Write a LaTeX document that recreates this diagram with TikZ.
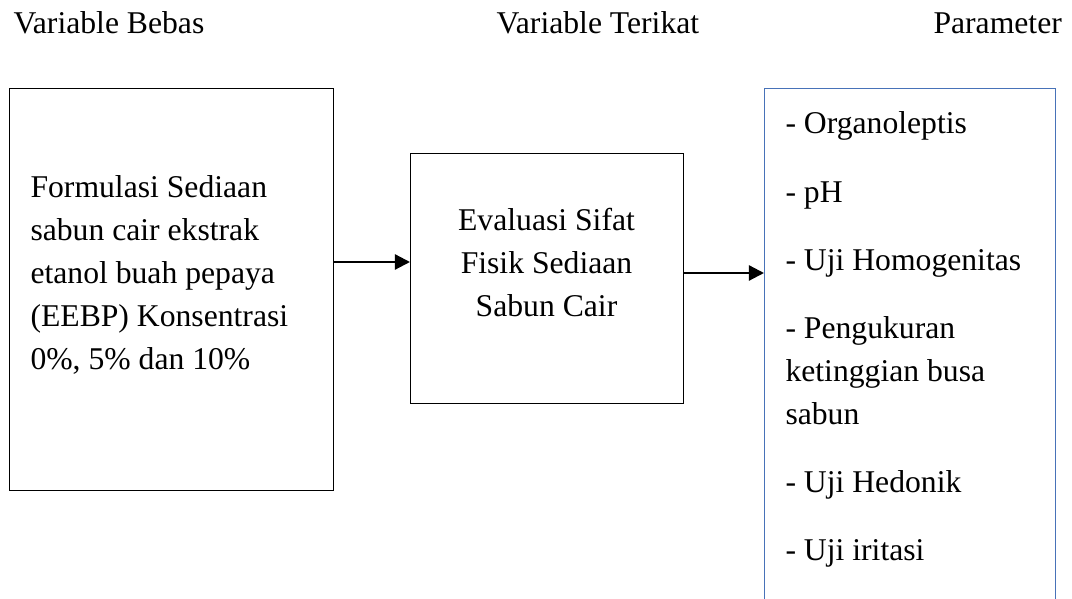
\documentclass[tikz,border=0pt]{standalone}
\usepackage{fontspec}
\setmainfont{Liberation Serif}
\usetikzlibrary{arrows.meta,positioning}
\definecolor{bingkaibiru}{RGB}{72,114,184}

\begin{document}
\begin{tikzpicture}[
    x=0.379pt, y=-0.379pt,
    font=\fontsize{12}{16.3}\selectfont,
    kotak/.style={rectangle, draw, line width=0.45pt, inner sep=0pt},
    teks/.style={inner sep=0pt},
    judul/.style={anchor=base west, inner sep=0pt},
    panah/.style={-{Triangle[length=5.7pt,width=5.7pt]}, line width=0.85pt}
]
\clip (0,0) rectangle (1072,599);

% Judul kolom
\node[judul] (jbebas) at (13,34) {Variable Bebas};
\node[judul] (jterikat) at (496,34) {Variable Terikat};
\node[judul] (jparam) at (933,34) {Parameter};

% Variabel bebas
\node[kotak, anchor=north west, minimum width=122.8pt, minimum height=152.4pt] (kiri) at (9,88) {};
\node[teks, anchor=west, align=flush left] (kiriteks) at (30,275)
    {Formulasi Sediaan\\ sabun cair ekstrak\\ etanol buah pepaya\\ (EEBP) Konsentrasi\\ 0\%, 5\% dan 10\%};

% Variabel terikat
\node[kotak, anchor=north west, minimum width=103.5pt, minimum height=94.8pt] (tengah) at (410,153) {};
\node[teks, align=center] (tengahteks) at (546.5,263)
    {Evaluasi Sifat\\ Fisik Sediaan\\ Sabun Cair};

% Parameter
\node[kotak, draw=bingkaibiru, anchor=north west, minimum width=110.3pt,
      minimum height=202pt] (param) at (764,88) {};
\node[teks, anchor=north west, align=flush left] (daftar) at (785,111.5)
    {- Organoleptis\\[9.5pt] - pH\\[9.5pt] - Uji Homogenitas\\[9.5pt] - Pengukuran\\
     ketinggian busa\\ sabun\\[9.5pt] - Uji Hedonik\\[9.5pt] - Uji iritasi};

% Panah
\draw[panah] (kiri.east |- 0,262) -- (tengah.west |- 0,262);
\draw[panah] (tengah.east |- 0,273) -- (param.west |- 0,273);

\end{tikzpicture}
\end{document}
